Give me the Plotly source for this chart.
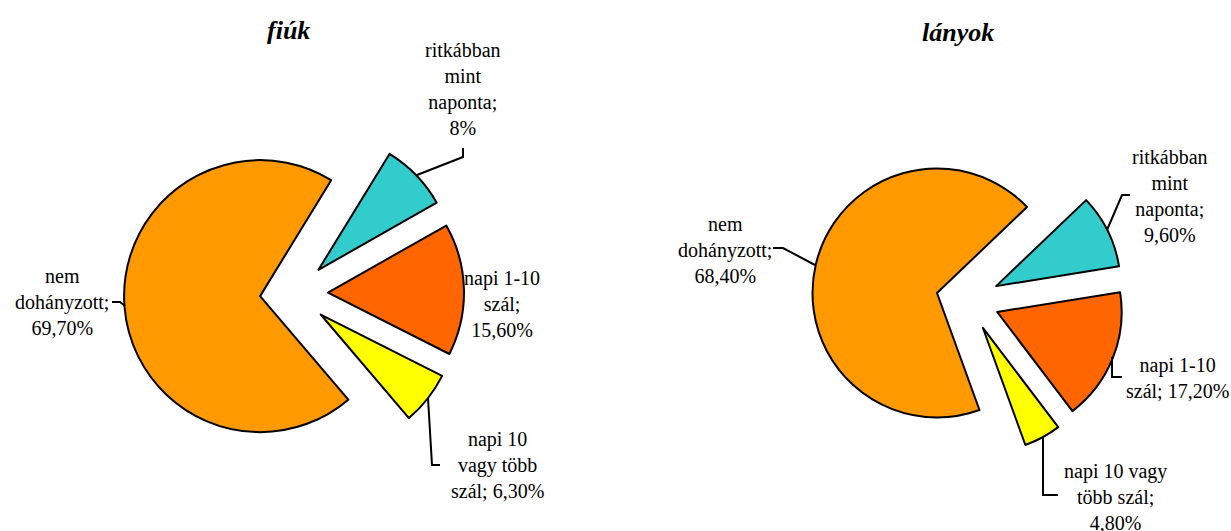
import plotly.graph_objects as go

W, H = 1231, 531

categories = ["ritkábban mint naponta", "napi 1-10 szál", "napi 10 vagy több szál", "nem dohányzott"]
fiuk_values = [8.0, 15.6, 6.3, 69.7]
lanyok_values = [9.6, 17.2, 4.8, 68.4]
fiuk_labels = ["ritkábban<br>mint<br>naponta;<br>8%", "napi 1-10<br>szál;<br>15,60%",
               "napi 10<br>vagy több<br>szál; 6,30%", "nem<br>dohányzott;<br>69,70%"]
lanyok_labels = ["ritkábban<br>mint<br>naponta;<br>9,60%", "napi 1-10<br>szál; 17,20%",
                 "napi 10 vagy<br>több szál;<br>4,80%", "nem<br>dohányzott;<br>68,40%"]
titles = ["fiúk", "lányok"]
colors = ["#33CCCC", "#FF6600", "#FFFF00", "#FF9900"]

FONT = "Liberation Serif, Times New Roman, serif"


def px(x):
    return x / W


def py(y):
    return 1 - y / H


def box(cx, cy, r, pull):
    h = r * (1 + pull)
    return dict(x=[px(cx - h), px(cx + h)], y=[py(cy + h), py(cy - h)])


fig = go.Figure()
fig.add_trace(go.Pie(
    labels=categories, values=fiuk_values, sort=False, direction="clockwise",
    rotation=31.5, pull=[0.25] * 4, textinfo="none", hoverinfo="label+percent",
    marker=dict(colors=colors, line=dict(color="black", width=2)),
    domain=box(294, 293.5, 136, 0.25), showlegend=False,
))
fig.add_trace(go.Pie(
    labels=categories, values=lanyok_values, sort=False, direction="clockwise",
    rotation=46.3, pull=[0.254] * 4, textinfo="none", hoverinfo="label+percent",
    marker=dict(colors=colors, line=dict(color="black", width=2)),
    domain=box(967.8, 300.2, 124.5, 0.254), showlegend=False,
))

annotations = []
for t, (x, y) in zip(titles, [(288, 31), (958, 33)]):
    annotations.append(dict(text=f"<b><i>{t}</i></b>", x=px(x), y=py(y), xref="paper", yref="paper",
                            showarrow=False, xanchor="center", yanchor="middle",
                            font=dict(family=FONT, size=26, color="black")))

fiuk_pos = [(463, 89), (502, 304), (497, 465), (62, 302)]
lanyok_pos = [(1170, 196), (1177, 378), (1115, 497), (725, 250)]
for labs, pos in [(fiuk_labels, fiuk_pos), (lanyok_labels, lanyok_pos)]:
    for lab, (x, y) in zip(labs, pos):
        annotations.append(dict(text=lab, x=px(x), y=py(y), xref="paper", yref="paper",
                                showarrow=False, xanchor="center", yanchor="middle", align="center",
                                font=dict(family=FONT, size=20, color="black")))

leaders = [
    [(417, 175), (463, 157), (463, 148)],
    [(428, 398), (432, 465), (440, 465)],
    [(112, 302), (120, 302), (125, 306)],
    [(773, 248), (783, 248), (815, 265)],
    [(1107, 230), (1122, 195), (1130, 195)],
    [(1112, 357), (1112, 377), (1122, 377)],
    [(1043, 438), (1043, 495), (1058, 495)],
]
shapes = []
for pts in leaders:
    path = "M " + " L ".join(f"{px(x)},{py(y)}" for x, y in pts)
    shapes.append(dict(type="path", path=path, xref="paper", yref="paper",
                       line=dict(color="black", width=2)))

fig.update_layout(
    width=W, height=H, margin=dict(l=0, r=0, t=0, b=0),
    paper_bgcolor="white", plot_bgcolor="white",
    annotations=annotations, shapes=shapes,
    font=dict(family=FONT),
)
fig.write_html("out.html", config={"displayModeBar": False},
               post_script="document.body.style.margin='0';document.body.style.overflow='hidden';")
